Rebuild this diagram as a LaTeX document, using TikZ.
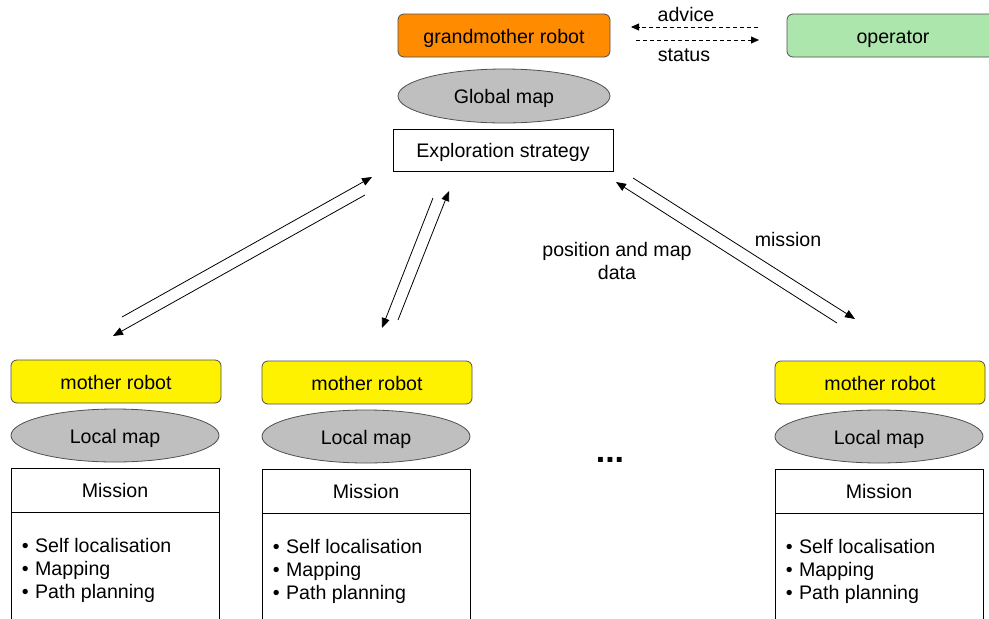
\documentclass[tikz,border=0pt]{standalone}
\usepackage{fontspec}
\setmainfont{Liberation Sans}
\usetikzlibrary{arrows.meta,shapes.geometric}

\definecolor{gmorange}{RGB}{255,140,0}
\definecolor{opgreen}{RGB}{172,230,172}
\definecolor{mapgray}{RGB}{191,191,191}
\definecolor{edgegray}{RGB}{80,80,80}

\tikzset{
  txt/.style={font=\fontsize{19.6}{23.5}\selectfont, text=black},
  oneline/.style={txt, text height=15pt, text depth=0pt},
  robotbox/.style={oneline, draw=edgegray, line width=0.8pt, rounded corners=6pt,
    minimum width=#1, minimum height=43pt, inner sep=0pt},
  mapell/.style={oneline, ellipse, draw=edgegray, line width=0.8pt, fill=mapgray,
    minimum width=#1, minimum height=54pt, inner sep=0pt},
  plainbox/.style={oneline, draw=black, line width=0.8pt, fill=white,
    minimum width=#1, inner sep=0pt},
  flow/.style={line width=0.8pt, -{Triangle[length=10pt,width=8pt]}},
  talk/.style={line width=0.8pt, dash pattern=on 4pt off 3pt,
    -{Triangle[length=8pt,width=7pt]}},
  lbl/.style={txt, inner sep=0pt, align=center},
  tasks/.style={txt, inner sep=0pt, align=left, anchor=north west,
    font=\fontsize{19.6}{23}\selectfont}
}

\begin{document}
\begin{tikzpicture}[x=1pt,y=-1pt]
\clip (0,0) rectangle (989,619);
\fill[white] (0,0) rectangle (989,619);

% top level: grandmother robot and operator
\node[robotbox=212pt, fill=gmorange] (gm) at (504,35.5) {grandmother robot};
\node[robotbox=212pt, fill=opgreen] (op) at (893,35.5) {operator};
\node[mapell=212pt] (gmap) at (504,96) {Global map};
\node[plainbox=220pt, minimum height=42pt] (expl) at (503,150) {Exploration strategy};

% advice / status exchange
\coordinate (adv0) at (758,27);  \coordinate (adv1) at (631,27);
\coordinate (sta0) at (636,40);  \coordinate (sta1) at (759,40);
\draw[talk] (adv0) -- (adv1);
\draw[talk] (sta0) -- (sta1);
\node[lbl] (advl) at (686,14) {advice};
\node[lbl] (stal) at (684,55) {status};

% mother robots, each with local map and mission box
\foreach \i/\cx/\cy in {1/116/0, 2/367/1, 3/880/1}{
  \node[robotbox=210pt, fill=yellow] (mr\i) at (\cx,381.5+\cy) {mother robot};
  \node[mapell=208pt, minimum height=53pt] (lm\i) at (\cx-1,435.5+\cy) {Local map};
  \node[plainbox=208pt, minimum height=44pt] (ms\i) at (\cx-1,490+\cy) {Mission};
  \node[plainbox=208pt, minimum height=140pt, anchor=north] (tk\i) at (ms\i.south) {};
  \node[tasks] (tl\i) at ([xshift=11pt,yshift=-26pt]tk\i.north west)
    {•\hspace{6.5pt}Self localisation\\•\hspace{6.5pt}Mapping\\•\hspace{6.5pt}Path planning};
}

% exchanges between exploration strategy and mother robots
\coordinate (a1s) at (122,317); \coordinate (a1e) at (372,177);
\coordinate (b1s) at (365,195); \coordinate (b1e) at (113,336);
\coordinate (a2s) at (398,320); \coordinate (a2e) at (449,191);
\coordinate (b2s) at (433,198); \coordinate (b2e) at (382,328);
\coordinate (a3s) at (837,323); \coordinate (a3e) at (616,182);
\coordinate (b3s) at (633,178); \coordinate (b3e) at (855,319);
\draw[flow] (a1s) -- (a1e);
\draw[flow] (b1s) -- (b1e);
\draw[flow] (a2s) -- (a2e);
\draw[flow] (b2s) -- (b2e);
\draw[flow] (a3s) -- (a3e);
\draw[flow] (b3s) -- (b3e);

\node[lbl] (posl) at (617,261) {position and map\\data};
\node[lbl] (misl) at (788,239) {mission};

\node[inner sep=0pt, font=\fontsize{34}{34}\selectfont\bfseries] (dots) at (610,460) {...};
\end{tikzpicture}
\end{document}
